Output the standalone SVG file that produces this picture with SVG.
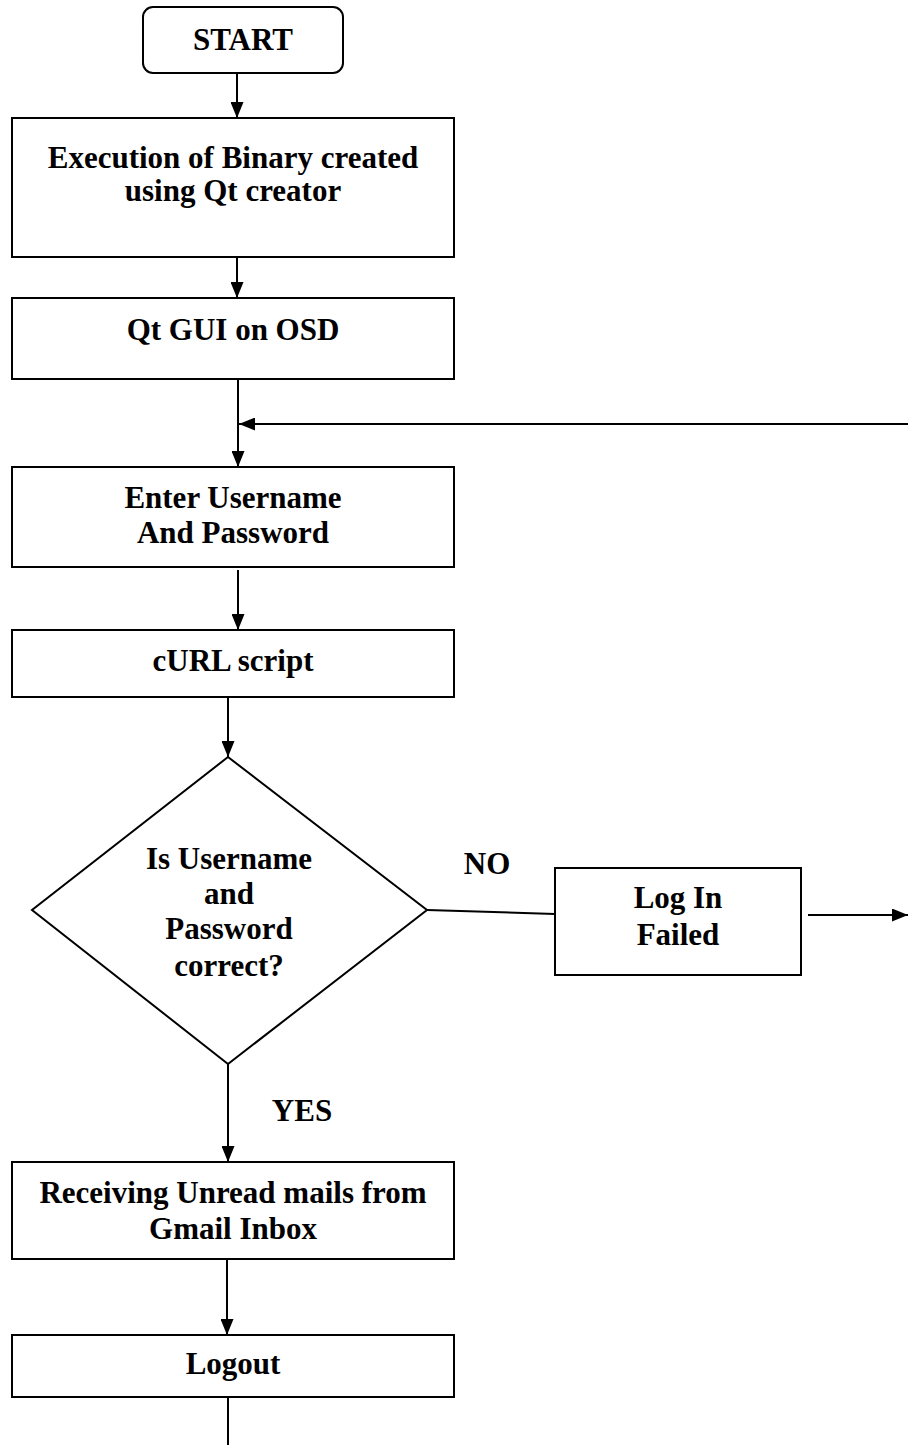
<svg xmlns="http://www.w3.org/2000/svg" width="908" height="1445" viewBox="0 0 908 1445">
<style>
.box{fill:#fff;stroke:#000;stroke-width:2}
.t{font-family:"Liberation Serif","Times New Roman",serif;font-weight:bold;font-size:31px;fill:#000;text-anchor:middle}
.c{fill:none;stroke:#000;stroke-width:2}
</style>
<defs>
<marker id="ah" markerUnits="userSpaceOnUse" markerWidth="16" markerHeight="13" refX="16" refY="6.5" orient="auto">
<path d="M0,0 L16,6.5 L0,13 z" fill="#000"/>
</marker>
</defs>
<rect width="908" height="1445" fill="#fff"/>
<g id="connectors">
<line class="c" x1="237" y1="73" x2="237" y2="118" marker-end="url(#ah)"/>
<line class="c" x1="237" y1="257" x2="237" y2="298" marker-end="url(#ah)"/>
<line class="c" x1="238" y1="377" x2="238" y2="467" marker-end="url(#ah)"/>
<line class="c" x1="908" y1="424" x2="239" y2="424" marker-end="url(#ah)"/>
<line class="c" x1="238" y1="570" x2="238" y2="630" marker-end="url(#ah)"/>
<line class="c" x1="228" y1="697" x2="228" y2="757" marker-end="url(#ah)"/>
<line class="c" x1="427" y1="910" x2="555" y2="914"/>
<line class="c" x1="808" y1="915" x2="908" y2="915" marker-end="url(#ah)"/>
<line class="c" x1="228" y1="1064" x2="228" y2="1162" marker-end="url(#ah)"/>
<line class="c" x1="227" y1="1255" x2="227" y2="1335" marker-end="url(#ah)"/>
<line class="c" x1="228" y1="1397" x2="228" y2="1445"/>
</g>
<g id="start">
<rect class="box" x="143" y="7" width="200" height="66" rx="10"/>
<text class="t" x="243" y="50">START</text>
</g>
<g id="exec">
<rect class="box" x="12" y="118" width="442" height="139"/>
<text class="t" x="233" y="168">Execution of Binary created</text>
<text class="t" x="233" y="201">using Qt creator</text>
</g>
<g id="gui">
<rect class="box" x="12" y="298" width="442" height="81"/>
<text class="t" x="233" y="340">Qt GUI on OSD</text>
</g>
<g id="enter">
<rect class="box" x="12" y="467" width="442" height="100"/>
<text class="t" x="233" y="508">Enter Username</text>
<text class="t" x="233" y="543">And Password</text>
</g>
<g id="curl">
<rect class="box" x="12" y="630" width="442" height="67"/>
<text class="t" x="233" y="671">cURL script</text>
</g>
<g id="decision">
<polygon class="box" points="228,757 427,910 228,1064 32,910"/>
<text class="t" x="229" y="869">Is Username</text>
<text class="t" x="229" y="904">and</text>
<text class="t" x="229" y="939">Password</text>
<text class="t" x="229" y="976">correct?</text>
</g>
<g id="label-no"><text class="t" x="487" y="874">NO</text></g>
<g id="loginfailed">
<rect class="box" x="555" y="868" width="246" height="107"/>
<text class="t" x="678" y="908">Log In</text>
<text class="t" x="678" y="945">Failed</text>
</g>
<g id="label-yes"><text class="t" x="302" y="1121">YES</text></g>
<g id="receiving">
<rect class="box" x="12" y="1162" width="442" height="97"/>
<text class="t" x="233" y="1203">Receiving Unread mails from</text>
<text class="t" x="233" y="1239">Gmail Inbox</text>
</g>
<g id="logout">
<rect class="box" x="12" y="1335" width="442" height="62"/>
<text class="t" x="233" y="1374">Logout</text>
</g>
</svg>
